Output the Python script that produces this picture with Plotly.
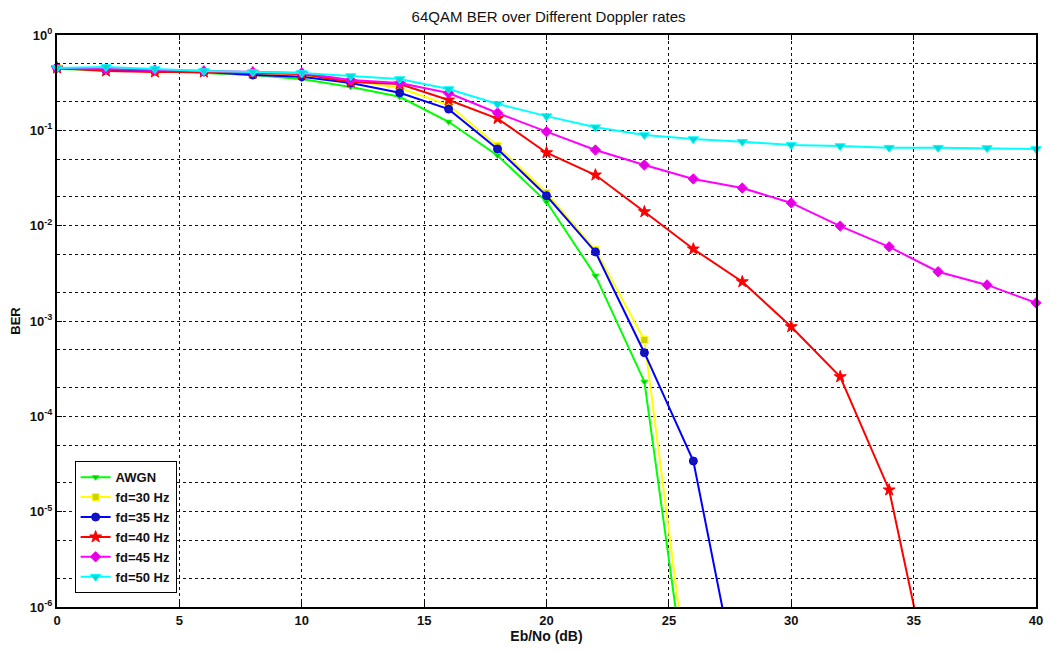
import plotly.graph_objects as go

# ---------------- data ----------------
ebno = [0, 2, 4, 6, 8, 10, 12, 14, 16, 18, 20, 22, 24, 26, 28, 30, 32, 34, 36, 38, 40]

ebno_awgn = [0, 2, 4, 6, 8, 10, 12, 14, 16, 18, 20, 22, 24, 26]
ber_awgn = [0.440, 0.430, 0.419, 0.400, 0.380, 0.345, 0.285, 0.225, 0.123,
            0.0544, 0.0178, 0.00299, 2.31e-4, 4.3e-8]

ebno_30 = [0, 2, 4, 6, 8, 10, 12, 14, 16, 18, 20, 22, 24, 26]
ber_30 = [0.451, 0.430, 0.419, 0.409, 0.380, 0.371, 0.337, 0.278, 0.184,
          0.0685, 0.0220, 0.00556, 6.32e-4, 6.3e-8]

ebno_35 = [0, 2, 4, 6, 8, 10, 12, 14, 16, 18, 20, 22, 24, 26, 28]
ber_35 = [0.451, 0.430, 0.419, 0.409, 0.380, 0.365, 0.314, 0.248, 0.167,
          0.0637, 0.0206, 0.00530, 4.65e-4, 3.40e-5, 8.7e-8]

ebno_40 = [0, 2, 4, 6, 8, 10, 12, 14, 16, 18, 20, 22, 24, 26, 28, 30, 32, 34, 36]
ber_40 = [0.451, 0.419, 0.409, 0.409, 0.400, 0.390, 0.321, 0.306, 0.208,
          0.133, 0.0582, 0.0340, 0.0140, 0.00569, 0.00258, 8.71e-4, 2.60e-4,
          1.69e-5, 6.6e-8]

ebno_45 = ebno
ber_45 = [0.451, 0.440, 0.430, 0.419, 0.409, 0.400, 0.337, 0.314, 0.246,
          0.152, 0.0968, 0.0622, 0.0433, 0.0309, 0.0248, 0.0173, 0.0099,
          0.0060, 0.00329, 0.00239, 0.00155]

ebno_50 = ebno
ber_50 = [0.451, 0.462, 0.440, 0.419, 0.409, 0.400, 0.371, 0.345, 0.271,
          0.189, 0.141, 0.108, 0.0893, 0.0810, 0.0760, 0.0702, 0.0685,
          0.0658, 0.0658, 0.0653, 0.0637]

series_names = ["AWGN", "fd=30 Hz", "fd=35 Hz", "fd=40 Hz", "fd=45 Hz", "fd=50 Hz"]

x_ticks = [0, 5, 10, 15, 20, 25, 30, 35, 40]
y_tickvals = [1e-6, 1e-5, 1e-4, 1e-3, 1e-2, 1e-1, 1]
y_ticktext = ["10<sup>-6</sup>", "10<sup>-5</sup>", "10<sup>-4</sup>",
              "10<sup>-3</sup>", "10<sup>-2</sup>", "10<sup>-1</sup>", "10<sup>0</sup>"]

# ---------------- styles ----------------
styles = [
    dict(line="#00ff00", marker="#10c010", symbol="triangle-down", size=6),
    dict(line="#ffff00", marker="#d0d000", symbol="square", size=7),
    dict(line="#0000ff", marker="#1515b5", symbol="circle", size=8),
    dict(line="#ff0000", marker="#ff0000", symbol="star", size=9),
    dict(line="#ff00ff", marker="#e000e0", symbol="diamond", size=8),
    dict(line="#00ffff", marker="#00d8d8", symbol="triangle-down", size=9),
]

xs = [ebno_awgn, ebno_30, ebno_35, ebno_40, ebno_45, ebno_50]
ys = [ber_awgn, ber_30, ber_35, ber_40, ber_45, ber_50]

fig = go.Figure()
for name, x, y, st in zip(series_names, xs, ys, styles):
    fig.add_trace(go.Scatter(
        x=x, y=y, name=name, mode="lines+markers",
        line=dict(color=st["line"], width=2),
        marker=dict(color=st["marker"], symbol=st["symbol"], size=st["size"],
                    line=dict(color=st["line"], width=1)),
        cliponaxis=False,
    ))

font_family = "Liberation Sans, Arial, sans-serif"
grid_col = "#111111"

fig.update_layout(
    width=1051, height=652,
    margin=dict(l=57, r=8, t=35, b=45),
    paper_bgcolor="white", plot_bgcolor="white",
    font=dict(family=font_family, color="black"),
    title=dict(text="64QAM BER over Different Doppler rates",
               x=0.522, xanchor="center", y=0.974, yanchor="middle",
               font=dict(size=15, family=font_family, color="#111")),
    showlegend=True,
    legend=dict(x=0.018, xanchor="left", y=0.024, yanchor="bottom",
                bgcolor="white", bordercolor="black", borderwidth=1,
                font=dict(size=13, family=font_family, color="#111", weight="bold"),
                tracegroupgap=0),
)

fig.update_xaxes(
    range=[0, 40], tickvals=x_ticks,
    showline=True, linecolor="black", linewidth=2, mirror="ticks",
    ticks="inside", ticklen=5, tickcolor="black", tickwidth=1,
    showgrid=True, gridcolor=grid_col, griddash="dot", gridwidth=1,
    zeroline=False,
    tickfont=dict(size=13, weight="bold", color="#111"),
    title=dict(text="Eb/No (dB)", font=dict(size=14, weight="bold", color="#111"),
               standoff=4),
)

fig.update_yaxes(
    type="log", range=[-6, 0],
    tickvals=y_tickvals, ticktext=y_ticktext,
    showline=True, linecolor="black", linewidth=2, mirror="ticks",
    ticks="inside", ticklen=5, tickcolor="black", tickwidth=1,
    showgrid=True, gridcolor=grid_col, griddash="dot", gridwidth=1,
    minor=dict(showgrid=True, gridcolor=grid_col, griddash="dot", gridwidth=1,
               ticks="inside", ticklen=3, tickcolor="black"),
    zeroline=False,
    tickfont=dict(size=13, weight="bold", color="#111"),
    title=dict(text="BER", font=dict(size=13, weight="bold", color="#111"),
               standoff=6),
)

fig.write_html("out.html")
